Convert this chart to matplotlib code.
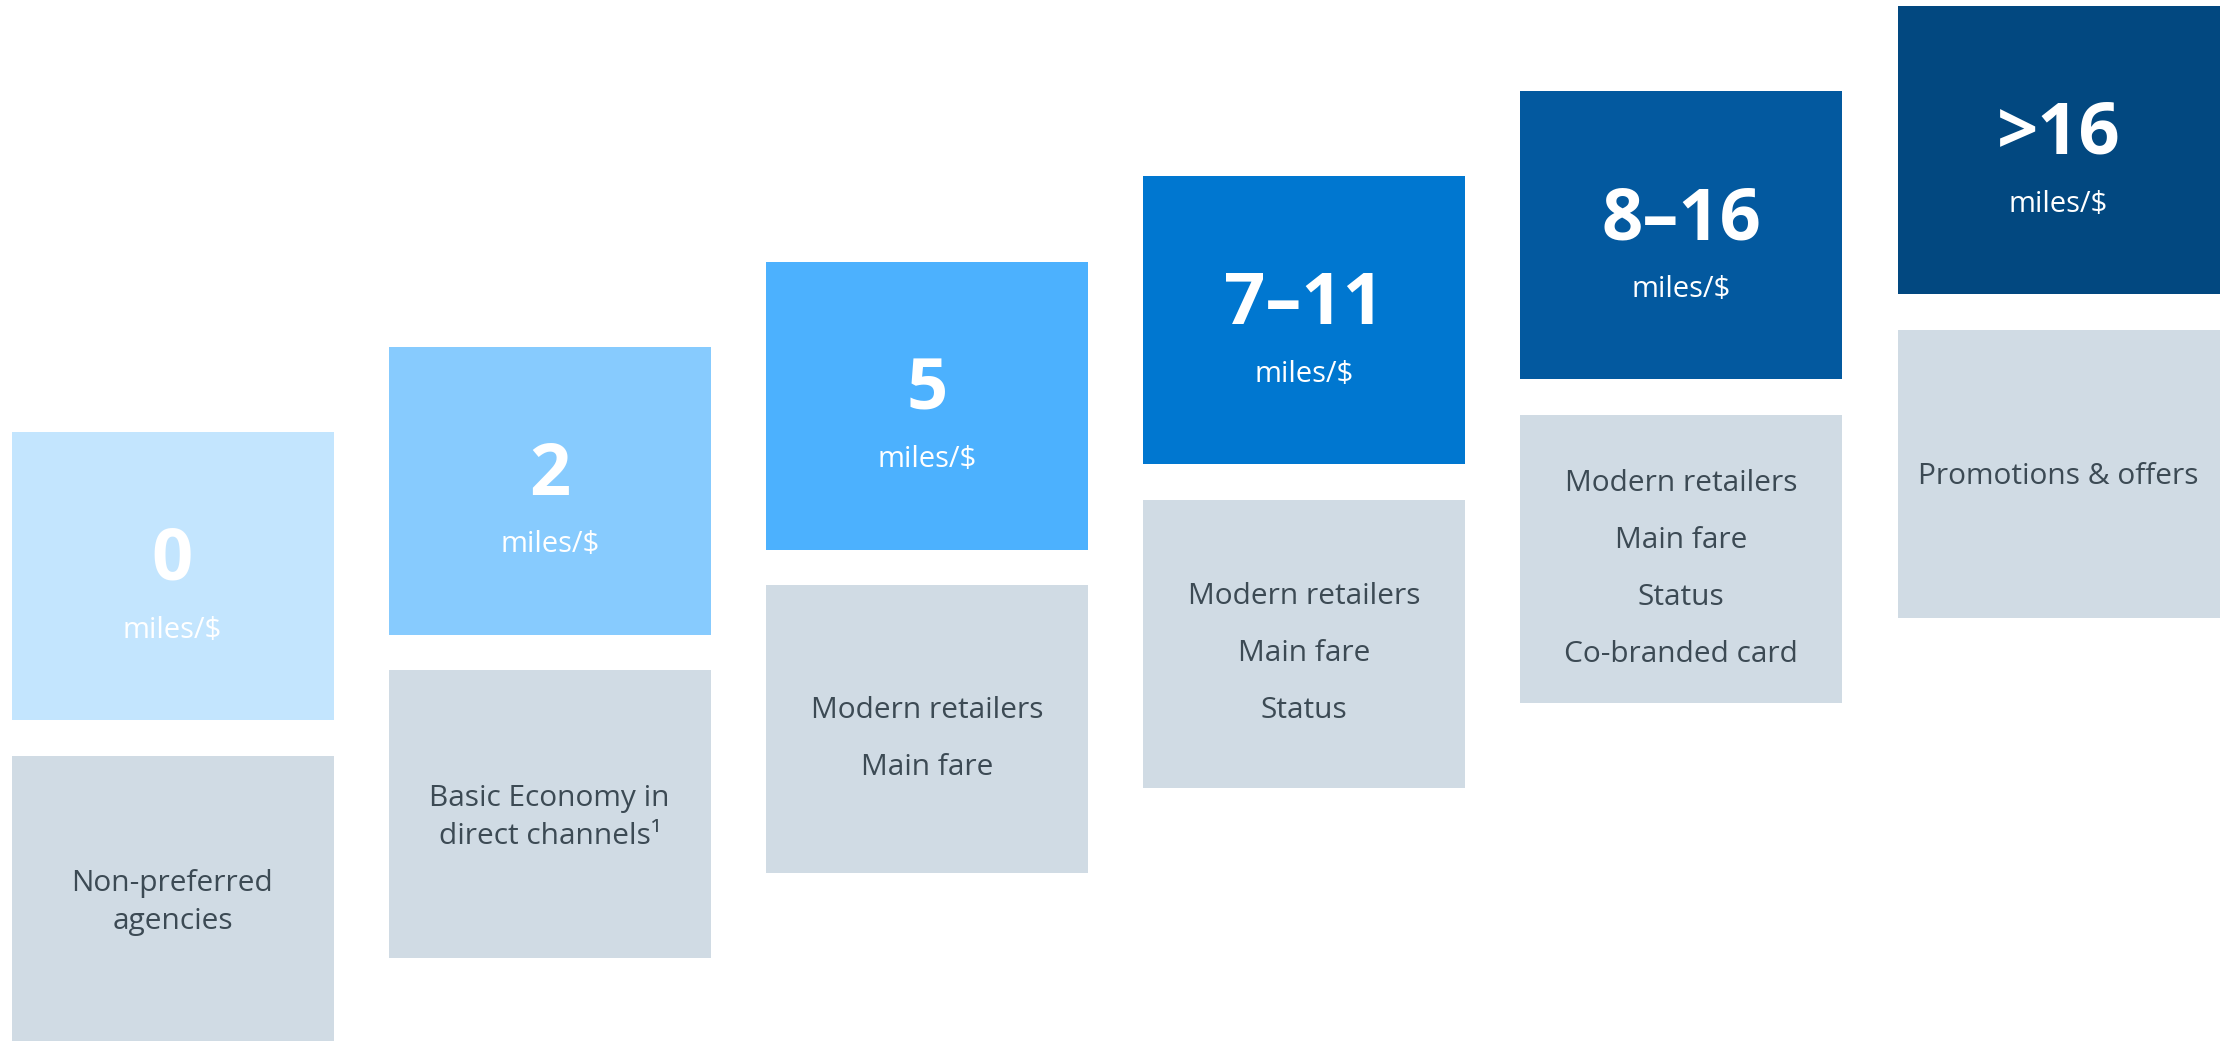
import matplotlib
matplotlib.use("Agg")
from matplotlib import pyplot as plt

plt.rcParams['font.family'] = ['Open Sans', 'DejaVu Sans']

# earn rate per tier and what earns it
tiers = ["0", "2", "5", "7–11", "8–16", ">16"]
unit = "miles/$"
earn_sources = [
    ["Non-preferred\nagencies"],
    ["Basic Economy in\ndirect channels¹"],
    ["Modern retailers", "Main fare"],
    ["Modern retailers", "Main fare", "Status"],
    ["Modern retailers", "Main fare", "Status", "Co-branded card"],
    ["Promotions & offers"],
]
tier_colors = ["#C3E5FE", "#87CBFE", "#4CB1FE", "#0077D0", "#03599F", "#024880"]
grey_box = "#D0DBE4"
grey_text = "#3C4A54"

# layout in pixel units
W, H = 2227, 1041
x0, step, box_w = 11.5, 377.2, 322
top0, rise, box_h, gap = 432, 85.2, 288, 35.5
item_gap = 57

fig = plt.figure(figsize=(W / 100, H / 100), dpi=100)
ax = fig.add_axes([0, 0, 1, 1])
ax.set_xlim(0, W)
ax.set_ylim(H, 0)
ax.axis('off')

for i, label in enumerate(tiers):
    left = x0 + i * step
    cx = left + box_w / 2
    top = top0 - i * rise
    grey_top = top + box_h + gap

    ax.bar(left, box_h, width=box_w, bottom=top, align='edge',
           color=tier_colors[i], linewidth=0)
    ax.bar(left, box_h, width=box_w, bottom=grey_top, align='edge',
           color=grey_box, linewidth=0)

    ax.text(cx, top + 129, label, ha='center', va='center', color='white',
            fontsize=52, fontweight='bold', parse_math=False)
    ax.text(cx, top + 198, unit, ha='center', va='center', color='white',
            fontsize=21, parse_math=False)

    items = earn_sources[i]
    # lists sit a touch lower than single entries
    mid = grey_top + box_h / 2 + (10 if len(items) > 1 else 3)
    start = mid - (len(items) - 1) * item_gap / 2
    for k, item in enumerate(items):
        ax.text(cx, start + k * item_gap, item, ha='center', va='center',
                color=grey_text, fontsize=21.5, linespacing=1.4)

plt.savefig("out.png", dpi=100)
